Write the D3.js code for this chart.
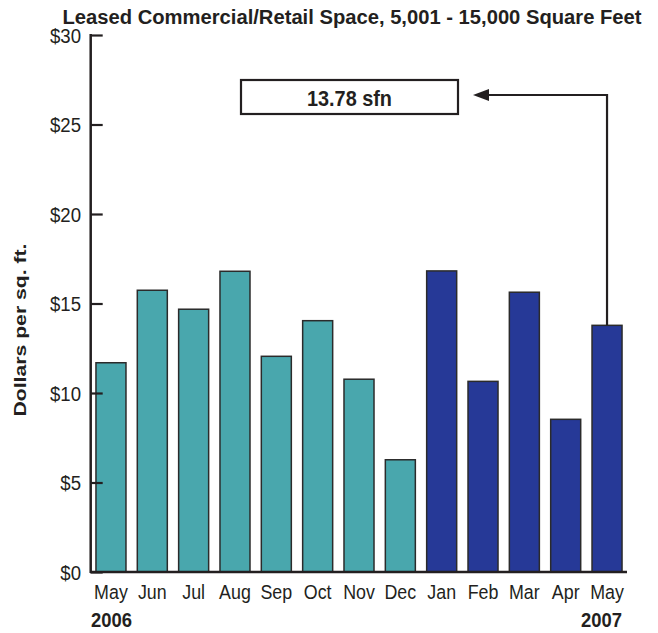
<!DOCTYPE html>
<html>
<head>
<meta charset="utf-8">
<script src="https://cdn.jsdelivr.net/npm/d3@7"></script>
<style>
  html, body { margin: 0; padding: 0; background: #fff; }
  svg text { font-family: "Liberation Sans", Arial, sans-serif; }
</style>
</head>
<body>
<svg id="chart" width="658" height="633"></svg>
<script>
const months = ["May","Jun","Jul","Aug","Sep","Oct","Nov","Dec","Jan","Feb","Mar","Apr","May"];
const years  = ["2006","2006","2006","2006","2006","2006","2006","2006","2007","2007","2007","2007","2007"];
const values = [11.69, 15.74, 14.68, 16.8, 12.05, 14.04, 10.77, 6.27, 16.82, 10.65, 15.63, 8.53, 13.78];
const yTicks = [0, 5, 10, 15, 20, 25, 30];
const title = "Leased Commercial/Retail Space, 5,001 - 15,000 Square Feet";
const yTitle = "Dollars per sq. ft.";
const callout = "13.78 sfn";
const yearLabels = ["2006", "2007"];

const svg = d3.select("#chart");
const colors = { "2006": "#49a7ad", "2007": "#263997" };
const ink = "#231f20";

// condense a text horizontally by a ratio, or to a fixed width
function condense(sel, ratio, width) {
  sel.each(function () {
    const w = this.getComputedTextLength();
    const target = width != null ? width : w * ratio;
    d3.select(this).attr("textLength", target).attr("lengthAdjust", "spacingAndGlyphs");
  });
}

const x = d3.scaleBand()
  .domain(d3.range(months.length))
  .range([90.3, 627.7])
  .paddingInner(0.274)
  .paddingOuter(0.137);
const y = d3.scaleLinear().domain([0, 30]).range([572, 35]);

// Title
svg.append("text")
  .attr("x", 352).attr("y", 24)
  .attr("text-anchor", "middle")
  .attr("font-size", 20).attr("font-weight", "bold").attr("fill", ink)
  .text(title)
  .call(condense, null, 579);

// Bars
svg.append("g").selectAll("rect")
  .data(values)
  .join("rect")
  .attr("x", (d, i) => x(i))
  .attr("y", d => y(d))
  .attr("width", x.bandwidth())
  .attr("height", d => y(0) - y(d))
  .attr("fill", (d, i) => colors[years[i]])
  .attr("stroke", "#2b2b2b")
  .attr("stroke-width", 1.5);

// Y axis
const yAxis = d3.axisRight(y).tickValues(yTicks).tickSize(12).tickFormat("");
const yg = svg.append("g").attr("transform", "translate(90.7,0)").call(yAxis);
yg.select(".domain").remove();
yg.selectAll(".tick line").attr("stroke", ink).attr("stroke-width", 2.2);
svg.append("line")
  .attr("x1", 90.7).attr("x2", 90.7)
  .attr("y1", y(30) - 1).attr("y2", y(0) + 1)
  .attr("stroke", ink).attr("stroke-width", 2.5);

// Y tick labels
svg.append("g").selectAll("text")
  .data(yTicks)
  .join("text")
  .attr("x", 81)
  .attr("y", d => y(d) + 7.5)
  .attr("text-anchor", "end")
  .attr("font-size", 20).attr("fill", ink)
  .text(d => "$" + d)
  .call(condense, 0.93);

// X baseline
svg.append("line")
  .attr("x1", 90).attr("x2", 627)
  .attr("y1", y(0)).attr("y2", y(0))
  .attr("stroke", ink).attr("stroke-width", 2.5);

// X labels
const xAxis = d3.axisBottom(x).tickSize(0).tickFormat(i => months[i]);
const xg = svg.append("g").attr("transform", "translate(0," + y(0) + ")").call(xAxis);
xg.select(".domain").remove();
xg.selectAll("text")
  .attr("dy", 0).attr("y", 26.5)
  .attr("font-size", 20.5).attr("fill", ink)
  .style("font-family", '"Liberation Sans", Arial, sans-serif')
  .call(condense, 0.87);

// Year labels
svg.append("text")
  .attr("x", x(0) - 5).attr("y", 627)
  .attr("text-anchor", "start")
  .attr("font-size", 20).attr("font-weight", "bold").attr("fill", ink)
  .text(yearLabels[0])
  .call(condense, null, 41);
svg.append("text")
  .attr("x", x(months.length - 1) + x.bandwidth()).attr("y", 627)
  .attr("text-anchor", "end")
  .attr("font-size", 20).attr("font-weight", "bold").attr("fill", ink)
  .text(yearLabels[1])
  .call(condense, null, 41);

// Y title
svg.append("text")
  .attr("transform", "translate(26,330) rotate(-90)")
  .attr("text-anchor", "middle")
  .attr("font-size", 16.5).attr("font-weight", "bold").attr("fill", ink)
  .text(yTitle)
  .call(condense, null, 173);

// Callout box
svg.append("rect")
  .attr("x", 241).attr("y", 80)
  .attr("width", 217).attr("height", 34)
  .attr("fill", "#fff").attr("stroke", ink).attr("stroke-width", 2.2);
svg.append("text")
  .attr("x", 349.5).attr("y", 105.5)
  .attr("text-anchor", "middle")
  .attr("font-size", 22).attr("font-weight", "bold").attr("fill", ink)
  .text(callout)
  .call(condense, null, 85);

// Arrow from last bar
const last = values.length - 1;
const ax = x(last) + x.bandwidth() / 2;
const arrowY = 95;
svg.append("path")
  .attr("d", `M${ax},${y(values[last])} V${arrowY} H486`)
  .attr("fill", "none").attr("stroke", ink).attr("stroke-width", 2.2);
svg.append("path")
  .attr("d", `M473,${arrowY} L489,${arrowY - 6} L489,${arrowY + 6} Z`)
  .attr("fill", ink);
</script>
</body>
</html>
